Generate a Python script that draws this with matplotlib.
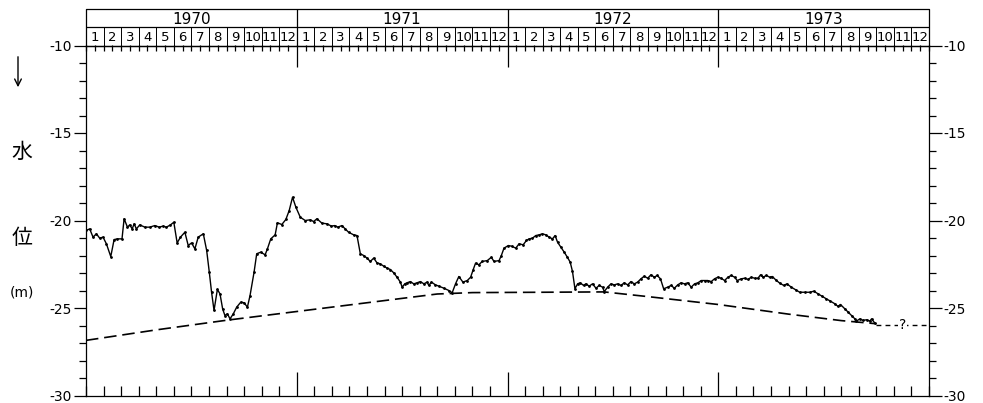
import matplotlib
matplotlib.use("Agg")
import matplotlib.pyplot as plt
from matplotlib.ticker import MultipleLocator, FixedLocator

plt.rcParams['font.family'] = ['DejaVu Sans']
plt.rcParams['axes.unicode_minus'] = False

# months counted from Jan 1970, water level in metres
months = [0.00, 0.21, 0.40, 0.59, 0.78, 0.97, 1.16, 1.41, 1.60, 1.79, 2.05, 2.17, 2.36, 2.49, 2.63, 2.74,
          2.87, 3.06, 3.35, 3.63, 3.92, 4.17, 4.39, 4.58, 4.81, 5.00, 5.19, 5.38, 5.63, 5.82, 6.01, 6.20,
          6.39, 6.68, 6.87, 7.02, 7.15, 7.29, 7.48, 7.63, 7.78, 7.91, 8.05, 8.20, 8.39, 8.58, 8.81, 9.00,
          9.19, 9.34, 9.57, 9.72, 9.95, 10.20, 10.33, 10.52, 10.77, 10.90, 11.15, 11.38, 11.57, 11.76,
          11.95, 12.20, 12.48, 12.77, 12.96, 13.15,
          13.43, 13.72, 13.97, 14.16, 14.34, 14.57, 14.76, 14.95, 15.24, 15.43, 15.62, 15.81, 16.00,
          16.19, 16.38, 16.57, 16.76, 16.95, 17.14, 17.33, 17.52, 17.71, 17.90, 18.00, 18.15, 18.28,
          18.47, 18.66, 18.85, 19.04, 19.24, 19.42, 19.52, 19.67, 19.90, 20.09, 20.38, 20.66, 20.85,
          21.04, 21.23, 21.46, 21.71, 21.90, 22.05, 22.18, 22.37, 22.56, 22.85, 23.08, 23.23, 23.52,
          23.65, 23.80, 24.05, 24.24, 24.47, 24.66, 24.89, 25.08, 25.23, 25.42, 25.61, 25.80, 25.99,
          26.18, 26.37, 26.56, 26.71,
          26.85, 27.04, 27.23, 27.41, 27.57, 27.70, 27.84, 27.99, 28.14, 28.33, 28.46, 28.65, 28.84,
          29.04, 29.22, 29.41, 29.51, 29.70, 29.89, 30.08, 30.27, 30.46, 30.65, 30.84, 31.03, 31.22,
          31.41, 31.60, 31.79, 31.98, 32.17, 32.36, 32.52, 32.71, 32.89, 33.12, 33.32, 33.50, 33.69,
          33.88, 34.08, 34.26, 34.46, 34.65, 34.84, 35.03, 35.22, 35.40, 35.60, 35.79, 35.98, 36.17,
          36.36, 36.55, 36.74, 36.93, 37.08, 37.31, 37.50, 37.69, 37.88, 38.07, 38.26, 38.41,
          38.55, 38.74, 38.93, 39.08, 39.27, 39.50, 39.73, 39.91, 40.16, 40.41, 40.64, 40.92, 41.21,
          41.44, 41.68, 41.93, 42.16, 42.39, 42.64, 42.82, 42.96, 43.21, 43.40, 43.59, 43.78, 43.87,
          44.06, 44.25, 44.45, 44.63, 44.73, 44.92]
level = [-20.57, -20.48, -20.95, -20.76, -21.01, -20.95, -21.33, -22.06, -21.09, -21.05, -21.05, -19.90,
         -20.38, -20.25, -20.48, -20.19, -20.48, -20.25, -20.38, -20.38, -20.29, -20.38, -20.32, -20.38,
         -20.25, -20.10, -21.28, -20.95, -20.67, -21.43, -21.28, -21.62, -20.95, -20.76, -21.71, -22.95,
         -24.10, -25.14, -23.94, -24.19, -25.05, -25.43, -25.33, -25.62, -25.33, -24.95, -24.67, -24.70,
         -24.95, -24.29, -22.95, -21.90, -21.81, -21.96, -21.62, -21.05, -20.82, -20.13, -20.23, -19.94,
         -19.43, -18.67, -19.24, -19.81, -20.00, -19.96, -20.06, -19.90,
         -20.15, -20.19, -20.32, -20.29, -20.38, -20.29, -20.48, -20.67, -20.82, -20.86, -21.90, -22.00,
         -22.15, -22.34, -22.15, -22.42, -22.48, -22.61, -22.72, -22.80, -22.99, -23.24, -23.52, -23.81,
         -23.62, -23.56, -23.49, -23.62, -23.56, -23.49, -23.62, -23.52, -23.71, -23.52, -23.68, -23.75,
         -23.87, -24.00, -24.13, -23.62, -23.20, -23.52, -23.43, -23.24, -22.80, -22.44, -22.53, -22.34,
         -22.29, -22.10, -22.34, -22.29, -22.00, -21.58, -21.43, -21.47, -21.58, -21.33, -21.39, -21.14,
         -21.05, -21.01, -20.86, -20.82, -20.76, -20.82, -20.95, -21.05, -20.86,
         -21.24, -21.52, -21.81, -22.10, -22.38, -22.91, -23.90, -23.62, -23.56, -23.71, -23.62, -23.75,
         -23.62, -23.87, -23.71, -23.81, -24.06, -23.81, -23.62, -23.68, -23.62, -23.71, -23.56, -23.68,
         -23.49, -23.62, -23.52, -23.33, -23.18, -23.30, -23.10, -23.24, -23.14, -23.33, -23.90, -23.81,
         -23.71, -23.87, -23.68, -23.56, -23.62, -23.56, -23.81, -23.62, -23.56, -23.43, -23.43, -23.43,
         -23.49, -23.33, -23.24, -23.30, -23.43, -23.24, -23.14, -23.24, -23.43, -23.33, -23.30, -23.37,
         -23.24, -23.30, -23.30, -23.10,
         -23.24, -23.14, -23.24, -23.20, -23.39, -23.58, -23.71, -23.62, -23.81, -23.96, -24.10, -24.10,
         -24.10, -24.04, -24.19, -24.34, -24.48, -24.61, -24.76, -24.91, -24.80, -25.05, -25.24, -25.43,
         -25.62, -25.75, -25.62, -25.71, -25.67, -25.75, -25.62, -25.87]

# lower envelope (dashed) and its uncertain continuation
base_months = [0, 4, 8, 12, 16, 20, 22, 26, 29.5, 32, 36, 40, 43, 45]
base_level = [-26.85, -26.25, -25.7, -25.2, -24.7, -24.2, -24.12, -24.1, -24.08, -24.35, -24.8, -25.35, -25.72, -25.9]
tail_months = [45, 48]
tail_level = [-25.97, -25.97]

years = ['1970', '1971', '1972', '1973']
month_names = [str(i) for i in range(1, 13)]

W, H = 983, 403
fig = plt.figure(figsize=(W / 100, H / 100), dpi=100)
left, right, top, bottom = 86, 929, 45.5, 395.5
ax = fig.add_axes([left / W, (H - bottom) / H, (right - left) / W, (bottom - top) / H])

ax.plot(months, level, color='black', lw=1.0, marker='o', ms=1.0)
ln, = ax.plot(base_months, base_level, color='black', lw=1.2)
ln.set_dashes((7.5, 3.5))
tl, = ax.plot(tail_months, tail_level, color='black', lw=1.0)
tl.set_dashes((3.5, 3))
ax.text(46.5, -25.97, '?', ha='center', va='center', fontsize=10,
        bbox=dict(facecolor='white', edgecolor='none', pad=0.5))

ax.set_xlim(0, 48)
ax.set_ylim(-30, -10)

# month ticks along the bottom, longer marks at the year boundaries
ax.xaxis.set_major_locator(FixedLocator([12, 24, 36]))
ax.xaxis.set_minor_locator(MultipleLocator(1))
ax.tick_params(axis='x', which='major', direction='in', length=17, width=0.9, labelbottom=False)
ax.tick_params(axis='x', which='minor', direction='in', length=7, width=0.9)

# half-month ticks hanging from the top edge
sec = ax.secondary_xaxis('top')
sec.xaxis.set_major_locator(FixedLocator([12, 24, 36]))
sec.xaxis.set_minor_locator(MultipleLocator(0.5))
sec.tick_params(which='major', direction='in', length=16, width=0.9, labeltop=False)
sec.tick_params(which='minor', direction='in', length=4, width=0.9)
sec.spines['top'].set_visible(False)

ax.yaxis.set_major_locator(MultipleLocator(5))
ax.yaxis.set_minor_locator(MultipleLocator(1))
ax.tick_params(axis='y', which='major', direction='out', length=9, width=0.9,
               left=True, right=True, labelleft=True, labelright=True, labelsize=10, pad=1)
ax.tick_params(axis='y', which='minor', direction='out', length=5, width=0.9, left=True, right=True)
ax.yaxis.set_major_formatter(plt.FuncFormatter(lambda v, p: '%d' % v))
for s in ax.spines.values():
    s.set_linewidth(0.9)

# calendar header: years over month cells
hdr = fig.add_axes([left / W, (H - top) / H, (right - left) / W, 36.5 / H])
hdr.set_xlim(0, 48)
hdr.set_ylim(0, 2)
hdr.axis('off')
hdr.plot([0, 48, 48, 0, 0], [0, 0, 2, 2, 0], color='black', lw=0.9, clip_on=False)
hdr.plot([0, 48], [1, 1], color='black', lw=0.9)
for i in range(1, 48):
    hdr.plot([i, i], [0, 2 if i % 12 == 0 else 1], color='black', lw=0.9 if i % 12 == 0 else 0.7)
for k, y in enumerate(years):
    hdr.text(12 * k + 6, 1.45, y, ha='center', va='center', fontsize=11)
    for j, mname in enumerate(month_names):
        hdr.text(12 * k + j + 0.5, 0.45, mname, ha='center', va='center', fontsize=9.5)

# vertical axis caption
ax.annotate('', xy=(18 / W, 1 - 90 / H), xytext=(18 / W, 1 - 54 / H),
            xycoords='figure fraction', textcoords='figure fraction',
            arrowprops=dict(arrowstyle='->', lw=1.0, color='black', mutation_scale=12))
cjk = ['Noto Sans CJK JP', 'DejaVu Sans']
fig.text(22 / W, 1 - 152 / H, '水', family=cjk, fontsize=15, ha='center', va='center')
fig.text(22 / W, 1 - 238 / H, '位', family=cjk, fontsize=15, ha='center', va='center')
fig.text(22 / W, 1 - 292 / H, '(m)', fontsize=10, ha='center', va='center')

fig.savefig('out.png', dpi=100)
